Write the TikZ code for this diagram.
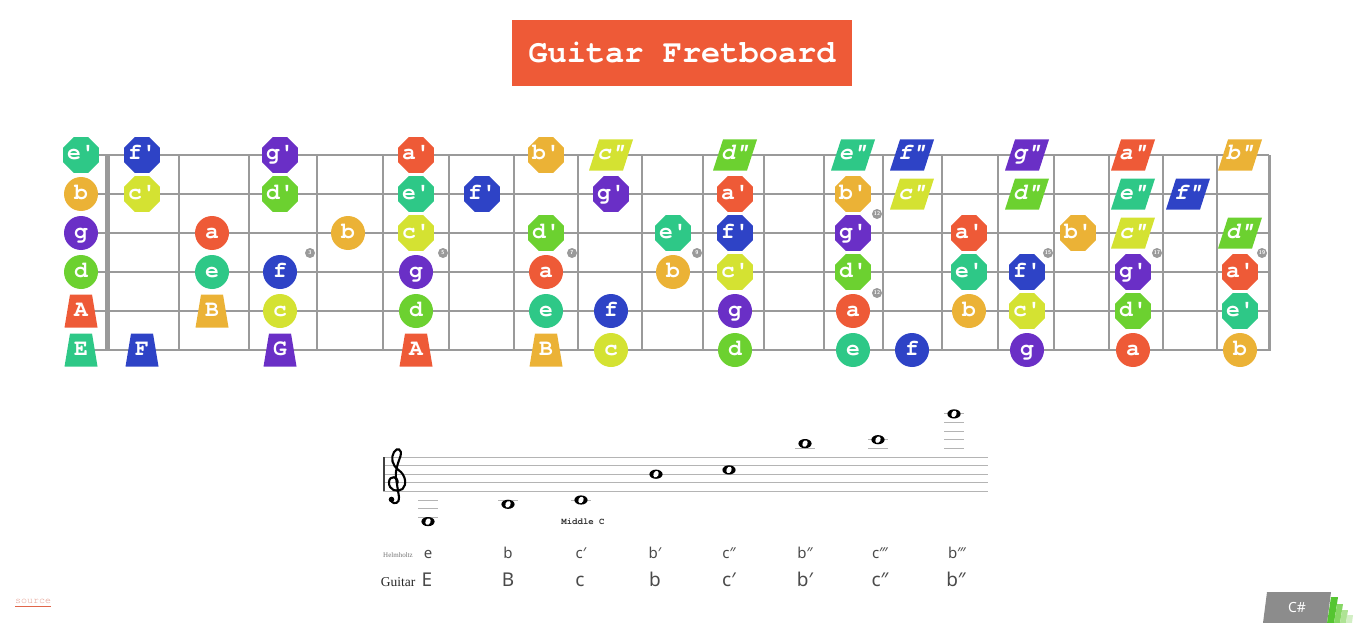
\documentclass[tikz,border=0pt]{standalone}
\usepackage{fontspec}
\setmonofont{texgyrecursor}[Extension=.otf, UprightFont=*-regular, BoldFont=*-bold, ItalicFont=*-italic, BoldItalicFont=*-bolditalic]
\newfontfamily\labfont{Noto Sans}
\newfontfamily\serifont{Liberation Serif}
\usetikzlibrary{shapes.geometric}
\definecolor{nteal}{HTML}{2EC887}
\definecolor{nblue}{HTML}{2E43C6}
\definecolor{npurple}{HTML}{6A2FC6}
\definecolor{nred}{HTML}{EE5A37}
\definecolor{norange}{HTML}{EBB236}
\definecolor{nyellow}{HTML}{D4E232}
\definecolor{ngreen}{HTML}{6CD130}
\definecolor{fretgray}{HTML}{9A9A9A}
\definecolor{staffgray}{HTML}{B4B4B4}
\definecolor{labgray}{HTML}{4A4A4A}
\definecolor{srccol}{HTML}{E39A8C}
\definecolor{srcline}{HTML}{E0664A}
\definecolor{badgegray}{HTML}{8C8C8C}
\definecolor{g1}{HTML}{55C531}
\definecolor{g2}{HTML}{86D764}
\definecolor{g3}{HTML}{AEE394}
\definecolor{g4}{HTML}{D2EFC4}
\newcommand\wnote[2]{%
  \fill[black] (#1,#2) ellipse [x radius=6.6, y radius=4.6];
  \fill[white, rotate around={-25:(#1,#2)}] (#1,#2) ellipse [x radius=2.5, y radius=3.4];}
\newcommand\nlab[1]{\makebox[0pt]{#1}}
\begin{document}
\begin{tikzpicture}[x=1pt,y=-1pt,
  notebase/.style={inner sep=0pt, text=white, text height=10pt, text depth=0pt,
    font=\ttfamily\bfseries\fontsize{23}{23}\selectfont},
  cnote/.style={notebase, circle, minimum size=34pt, fill=#1},
  onote/.style={notebase, regular polygon, regular polygon sides=8, minimum size=38.5pt, fill=#1},
  tnote/.style={notebase, rectangle, minimum width=33pt, minimum height=33pt,
    path picture={\fill[#1] ([xshift=5.5pt]path picture bounding box.north west)
      -- ([xshift=-5.5pt]path picture bounding box.north east)
      -- (path picture bounding box.south east)
      -- (path picture bounding box.south west) -- cycle;}},
  pnote/.style={notebase, rectangle, minimum width=44pt, minimum height=31pt,
    font=\ttfamily\bfseries\itshape\fontsize{23}{23}\selectfont,
    path picture={\fill[#1] ([xshift=10pt]path picture bounding box.north west)
      -- (path picture bounding box.north east)
      -- ([xshift=-10pt]path picture bounding box.south east)
      -- (path picture bounding box.south west) -- cycle;}},
  fretline/.style={draw=fretgray, line width=1.1pt},
  fretmark/.style={circle, fill=fretgray, minimum size=10pt, inner sep=0pt, text=white,
    font=\sffamily\bfseries\fontsize{5.5}{5.5}\selectfont},
  staffline/.style={draw=staffgray, line width=1pt},
  ledger/.style={draw=staffgray, line width=1pt},
  helm/.style={text=labgray, font=\labfont\fontsize{15}{15}\selectfont, text height=11pt, text depth=3pt, inner sep=0pt},
  guit/.style={text=labgray, font=\labfont\fontsize{19}{19}\selectfont, text height=14pt, text depth=4pt, inner sep=0pt}
]
\useasboundingbox (0,0) rectangle (1362,623);

% title
\fill[nred] (512,20) rectangle (852,86);
\node[text=white, font=\ttfamily\bfseries\fontsize{32}{32}\selectfont] (title) at (682,53) {Guitar Fretboard};

% strings and frets
\foreach \y in {155,194,233,272,311,350}
  \draw[fretline] (81,\y) -- (1269,\y);
\foreach \f in {179,249,317,383,449,514,578,642,703,764,824,883,942,998,1054,1109,1163,1217}
  \draw[fretline] (\f,155) -- (\f,350);
\fill[fretgray] (105,155) rectangle (110,351);
\fill[fretgray] (1268,155) rectangle (1271,351);

% fret markers
\foreach \x/\y/\n in {310/253/3, 443/253/5, 572/253/7, 697/253/9, 877/214/12, 877/293/12, 1048/253/15, 1157/253/17, 1262/253/19}
  \node[fretmark] (m\n-\y) at (\x,\y) {\n};

% notes: string 1
\foreach \x/\s/\c/\t in {81/onote/nteal/e', 142/onote/nblue/f', 280/onote/npurple/g', 416/onote/nred/a', 546/onote/norange/b', 611/pnote/nyellow/c", 735/pnote/ngreen/d", 853/pnote/nteal/e", 912/pnote/nblue/f", 1027/pnote/npurple/g", 1133/pnote/nred/a", 1240/pnote/norange/b"}
  \node[\s=\c] (n1-\x) at (\x,155) {\nlab{\t}};
% string 2
\foreach \x/\s/\c/\t in {81/cnote/norange/b, 142/onote/nyellow/c', 280/onote/ngreen/d', 416/onote/nteal/e', 482/onote/nblue/f', 611/onote/npurple/g', 735/onote/nred/a', 853/onote/norange/b', 912/pnote/nyellow/c", 1027/pnote/ngreen/d", 1133/pnote/nteal/e", 1188/pnote/nblue/f"}
  \node[\s=\c] (n2-\x) at (\x,194) {\nlab{\t}};
% string 3
\foreach \x/\s/\c/\t in {81/cnote/npurple/g, 212/cnote/nred/a, 348/cnote/norange/b, 416/onote/nyellow/c', 546/onote/ngreen/d', 673/onote/nteal/e', 735/onote/nblue/f', 853/onote/npurple/g', 969/onote/nred/a', 1078/onote/norange/b', 1133/pnote/nyellow/c", 1240/pnote/ngreen/d"}
  \node[\s=\c] (n3-\x) at (\x,233) {\nlab{\t}};
% string 4
\foreach \x/\s/\c/\t in {81/cnote/ngreen/d, 212/cnote/nteal/e, 280/cnote/nblue/f, 416/cnote/npurple/g, 546/cnote/nred/a, 673/cnote/norange/b, 735/onote/nyellow/c', 853/onote/ngreen/d', 969/onote/nteal/e', 1027/onote/nblue/f', 1133/onote/npurple/g', 1240/onote/nred/a'}
  \node[\s=\c] (n4-\x) at (\x,272) {\nlab{\t}};
% string 5
\foreach \x/\s/\c/\t in {81/tnote/nred/A, 212/tnote/norange/B, 280/cnote/nyellow/c, 416/cnote/ngreen/d, 546/cnote/nteal/e, 611/cnote/nblue/f, 735/cnote/npurple/g, 853/cnote/nred/a, 969/cnote/norange/b, 1027/onote/nyellow/c', 1133/onote/ngreen/d', 1240/onote/nteal/e'}
  \node[\s=\c] (n5-\x) at (\x,311) {\nlab{\t}};
% string 6
\foreach \x/\s/\c/\t in {81/tnote/nteal/E, 142/tnote/nblue/F, 280/tnote/npurple/G, 416/tnote/nred/A, 546/tnote/norange/B, 611/cnote/nyellow/c, 735/cnote/ngreen/d, 853/cnote/nteal/e, 912/cnote/nblue/f, 1027/cnote/npurple/g, 1133/cnote/nred/a, 1240/cnote/norange/b}
  \node[\s=\c] (n6-\x) at (\x,350) {\nlab{\t}};

% staff
\foreach \y in {457,465.6,474.2,482.8,491.4}
  \draw[staffline] (383,\y) -- (988,\y);
\fill[black!75] (382.5,457) rectangle (384.7,491.4);
% treble clef
\draw[black, line width=2.1pt, line cap=round]
  (397.5,483) .. controls (398.5,476) and (389.5,475) .. (389,482)
  .. controls (388.5,490) and (397,493) .. (402.5,489)
  .. controls (407,485) and (406,475) .. (398.5,470)
  .. controls (392,465) and (390.5,458) .. (394,452)
  .. controls (397,447) and (402.5,449) .. (400.5,456)
  .. controls (398.5,462) and (395,470) .. (396,478)
  -- (399,497)
  .. controls (400,503) and (394,505) .. (391.5,501.5);
\fill[black] (391.5,499.5) circle (2.8);

% ledger lines
\foreach \x/\y in {428/500, 428/508.6, 428/517.2, 508/500, 581/500, 805/448.3, 878/448.3, 878/439.7, 954/448.3, 954/439.7, 954/431.1, 954/422.5, 954/413.9}
  \draw[ledger] (\x-10,\y) -- (\x+10,\y);
% whole notes
\wnote{428}{521.6}
\wnote{508}{504.3}
\wnote{581}{500}
\wnote{656}{474.2}
\wnote{729}{469.9}
\wnote{805}{443.6}
\wnote{878}{439.7}
\wnote{954}{413.9}
\node[font=\ttfamily\bfseries\fontsize{9}{9}\selectfont, text=black!80] (midc) at (583,522) {Middle C};

% Helmholtz row
\node[text=black!55, font=\serifont\fontsize{7}{7}\selectfont] (hlab) at (398,555) {Helmholtz};
\foreach \x/\t/\n in {428/e/1, 508/b/2, 581/c′/3, 655/b′/4, 729/c″/5, 805/b″/6, 880/c‴/7, 957/b‴/8}
  \node[helm] (h\n) at (\x,554) {\t};
% Guitar row
\node[text=black!85, font=\serifont\fontsize{13.5}{13.5}\selectfont] (glab) at (398,582) {Guitar};
\foreach \x/\t/\n in {427/E/1, 508/B/2, 580/c/3, 655/b/4, 729/c′/5, 805/b′/6, 880/c″/7, 956/b″/8}
  \node[guit] (g\n) at (\x,581) {\t};

% source link
\node[anchor=west, inner sep=0pt, text=srccol, font=\ttfamily\fontsize{10}{10}\selectfont] (src) at (15,601) {source};
\draw[srcline, line width=0.8pt] ([yshift=-2.5pt]src.south west) -- ([yshift=-2.5pt]src.south east);

% C# badge
\fill[badgegray] (1263,623) -- (1267,592) -- (1331,592) -- (1327,623) -- cycle;
\node[text=white, font=\labfont\bfseries\fontsize{14}{14}\selectfont] (csharp) at (1297,607) {C\#};
\fill[g1] (1327,623) -- (1331,597) -- (1338,597) -- (1334,623) -- cycle;
\fill[g2] (1334,623) -- (1337,604) -- (1343,604) -- (1340,623) -- cycle;
\fill[g3] (1340,623) -- (1342,610) -- (1348,610) -- (1346,623) -- cycle;
\fill[g4] (1346,623) -- (1347,615) -- (1353,615) -- (1352,623) -- cycle;
\end{tikzpicture}
\end{document}
